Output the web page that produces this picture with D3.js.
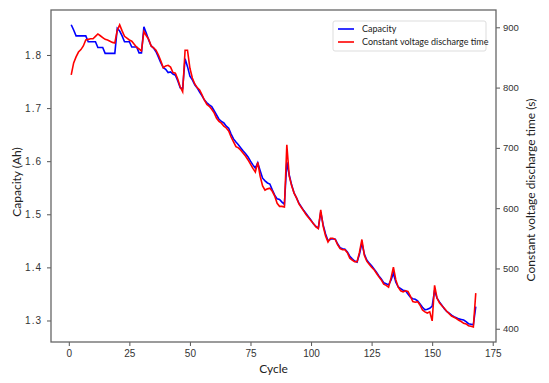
<!DOCTYPE html>
<html>
<head>
<meta charset="utf-8">
<script src="https://cdn.jsdelivr.net/npm/d3@7"></script>
<style>
  body { margin: 0; background: #fff; }
  svg { display: block; }
</style>
</head>
<body>
<svg width="549" height="383"></svg>
<script>
// cycles 1..168
var cycles = d3.range(1, 169);

// discharge capacity (Ah)
var capacity = [
  1.857, 1.847, 1.836, 1.836, 1.836, 1.836, 1.836, 1.825, 1.825, 1.825,
  1.825, 1.814, 1.814, 1.814, 1.803, 1.803, 1.803, 1.803, 1.803, 1.850,
  1.845, 1.836, 1.825, 1.825, 1.825, 1.815, 1.815, 1.815, 1.804, 1.804,
  1.853, 1.841, 1.828, 1.817, 1.813, 1.806, 1.796, 1.785, 1.776, 1.773,
  1.767, 1.768, 1.764, 1.762, 1.751, 1.738, 1.737, 1.793, 1.778, 1.760,
  1.753, 1.744, 1.738, 1.730, 1.723, 1.715, 1.710, 1.706, 1.703, 1.695,
  1.687, 1.679, 1.675, 1.672, 1.666, 1.662, 1.651, 1.642, 1.636, 1.631,
  1.625, 1.619, 1.614, 1.608, 1.600, 1.593, 1.587, 1.597, 1.582, 1.568,
  1.563, 1.559, 1.557, 1.546, 1.536, 1.529, 1.528, 1.523, 1.519, 1.598,
  1.574, 1.555, 1.540, 1.531, 1.521, 1.514, 1.507, 1.501, 1.495, 1.489,
  1.482, 1.477, 1.474, 1.504, 1.480, 1.463, 1.450, 1.453, 1.454, 1.453,
  1.444, 1.437, 1.435, 1.434, 1.429, 1.421, 1.416, 1.412, 1.410, 1.425,
  1.446, 1.425, 1.414, 1.408, 1.403, 1.397, 1.391, 1.384, 1.378, 1.371,
  1.369, 1.367, 1.376, 1.389, 1.372, 1.363, 1.360, 1.357, 1.356, 1.350,
  1.344, 1.341, 1.340, 1.337, 1.331, 1.325, 1.320, 1.321, 1.323, 1.327,
  1.357, 1.342, 1.335, 1.329, 1.322, 1.317, 1.314, 1.310, 1.307, 1.305,
  1.303, 1.302, 1.301, 1.298, 1.294, 1.293, 1.292, 1.326
];

// constant voltage discharge time (s)
var cvTime = [
  821, 841, 851, 859, 863, 869, 879, 880, 881, 881,
  885, 889, 886, 883, 880, 879, 877, 875, 874, 895,
  904, 894, 885, 882, 879, 877, 872, 867, 864, 861,
  893, 886, 880, 869, 866, 862, 854, 844, 833, 836,
  837, 834, 825, 824, 814, 801, 793, 862, 862, 832,
  816, 806, 800, 796, 788, 779, 772, 769, 764, 758,
  749, 744, 741, 736, 733, 728, 718, 710, 702, 700,
  696, 691, 686, 680, 673, 666, 660, 676, 653, 637,
  630, 632, 633, 628, 620, 608, 603, 603, 602, 705,
  653, 637, 625, 617, 607, 601, 595, 589, 584, 579,
  574, 569, 566, 597, 570, 554, 544, 550, 550, 548,
  539, 533, 531, 531, 526, 517, 514, 511, 511, 527,
  548, 522, 512, 507, 502, 498, 492, 486, 481, 474,
  472, 469, 484, 502, 481, 469, 463, 461, 463, 462,
  454, 445, 444, 445, 439, 431, 428, 426, 428, 413,
  472, 451, 443, 438, 434, 429, 425, 421, 419, 417,
  414, 412, 409, 408, 405, 404, 403, 459
];

var xTicks = [0, 25, 50, 75, 100, 125, 150, 175];
var capTicks = [1.3, 1.4, 1.5, 1.6, 1.7, 1.8];
var timeTicks = [400, 500, 600, 700, 800, 900];
var seriesNames = ["Capacity", "Constant voltage discharge time"];
var seriesColors = ["#0000ff", "#ff0000"];

var svg = d3.select("svg"),
    plotL = 51, plotR = 496, plotT = 10, plotB = 342;

var x = d3.scaleLinear().domain([-7.35, 176.35]).range([plotL, plotR]);
var yCap = d3.scaleLinear().domain([1.2595, 1.8847]).range([plotB, plotT]);
var yTime = d3.scaleLinear().domain([378, 928.7]).range([plotB, plotT]);

var tickFont = "'Liberation Sans', Arial, sans-serif";
var labelFont = "Lato, 'Open Sans', sans-serif";

function styleAxis(g) {
  g.select(".domain").remove();
  g.selectAll(".tick line").attr("stroke", "#555").attr("stroke-width", 1);
  g.selectAll(".tick text").attr("fill", "#333").attr("font-family", tickFont).attr("font-size", 10);
}

svg.append("g")
    .attr("transform", "translate(0," + plotB + ")")
    .call(d3.axisBottom(x).tickValues(xTicks).tickSize(4).tickPadding(4))
    .call(styleAxis);

svg.append("g")
    .attr("transform", "translate(" + plotL + ",0)")
    .call(d3.axisLeft(yCap).tickValues(capTicks).tickSize(4).tickPadding(5)
      .tickFormat(d3.format(".1f")))
    .call(styleAxis)
    .selectAll(".tick text").attr("letter-spacing", "1px");

svg.append("g")
    .attr("transform", "translate(" + plotR + ",0)")
    .call(d3.axisRight(yTime).tickValues(timeTicks).tickSize(4).tickPadding(3))
    .call(styleAxis)
    .selectAll(".tick text").attr("font-size", 9.5);

// spines
svg.append("rect")
    .attr("x", plotL).attr("y", plotT)
    .attr("width", plotR - plotL).attr("height", plotB - plotT)
    .attr("fill", "none").attr("stroke", "#666").attr("stroke-width", 1.3);

var capLine = d3.line()
    .x(function(d, i) { return x(cycles[i]); })
    .y(function(d) { return yCap(d); });
var timeLine = d3.line()
    .x(function(d, i) { return x(cycles[i]); })
    .y(function(d) { return yTime(d); });

svg.append("path")
    .datum(capacity)
    .attr("fill", "none")
    .attr("stroke", seriesColors[0])
    .attr("stroke-width", 1.6)
    .attr("d", capLine);

svg.append("path")
    .datum(cvTime)
    .attr("fill", "none")
    .attr("stroke", seriesColors[1])
    .attr("stroke-width", 1.6)
    .attr("d", timeLine);

// axis titles
svg.append("text")
    .attr("x", (plotL + plotR) / 2).attr("y", 373)
    .attr("text-anchor", "middle")
    .attr("font-family", labelFont).attr("font-size", 12).attr("fill", "#222")
    .text("Cycle");

svg.append("text")
    .attr("transform", "translate(21,182) rotate(-90)")
    .attr("text-anchor", "middle")
    .attr("font-family", labelFont).attr("font-size", 12).attr("fill", "#222")
    .text("Capacity (Ah)");

svg.append("text")
    .attr("transform", "translate(535,190) rotate(-90)")
    .attr("text-anchor", "middle")
    .attr("font-family", labelFont).attr("font-size", 12).attr("fill", "#222")
    .text("Constant voltage discharge time (s)");

// legend
var legend = svg.append("g").attr("transform", "translate(333,21)");
legend.append("rect")
    .attr("width", 153).attr("height", 30).attr("rx", 2)
    .attr("fill", "#fff").attr("stroke", "#ddd").attr("stroke-width", 1);
var item = legend.selectAll("g.item")
    .data(seriesNames)
    .enter().append("g")
    .attr("class", "item")
    .attr("transform", function(d, i) { return "translate(0," + (8 + i * 13) + ")"; });
item.append("line")
    .attr("x1", 5).attr("x2", 21)
    .attr("stroke", function(d, i) { return seriesColors[i]; })
    .attr("stroke-width", 1.6);
item.append("text")
    .attr("x", 29).attr("dy", "0.35em")
    .attr("font-family", labelFont).attr("font-size", 9).attr("fill", "#222")
    .text(function(d) { return d; });
</script>
</body>
</html>
